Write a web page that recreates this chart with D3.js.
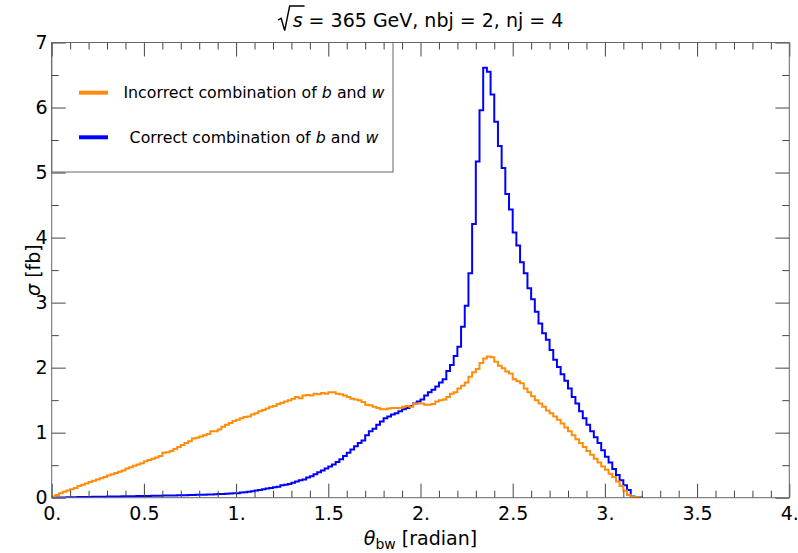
<!DOCTYPE html>
<html lang="en">
<head>
  <meta charset="UTF-8">
  <title>theta_bw 365 GeV</title>
  <style>
body { margin: 0; background: #fff; }
svg { display: block; font-family: "DejaVu Sans", sans-serif; }
  </style>
</head>
<body>
<div id="wrapper"></div>
<script src="https://cdnjs.cloudflare.com/ajax/libs/d3/7.8.5/d3.min.js"></script>
<script>

// DATA - histogram bins of width 0.02 starting at 0
const binWidth = 0.02

const incorrectValues = [
  0.02, 0.04, 0.07, 0.09, 0.11, 0.13, 0.15, 0.18, 0.20, 0.22,
  0.24, 0.26, 0.28, 0.30, 0.32, 0.34, 0.36, 0.38, 0.40, 0.42,
  0.45, 0.47, 0.49, 0.51, 0.53, 0.56, 0.58, 0.60, 0.62, 0.64,
  0.69, 0.70, 0.72, 0.75, 0.78, 0.81, 0.84, 0.87, 0.91, 0.92,
  0.94, 0.96, 0.98, 1.02, 1.02, 1.05, 1.09, 1.12, 1.15, 1.18,
  1.20, 1.22, 1.24, 1.25, 1.28, 1.30, 1.33, 1.35, 1.37, 1.40,
  1.41, 1.44, 1.46, 1.48, 1.50, 1.52, 1.55, 1.53, 1.57, 1.58,
  1.57, 1.60, 1.59, 1.61, 1.60, 1.62, 1.62, 1.60, 1.59, 1.57,
  1.55, 1.52, 1.51, 1.50, 1.47, 1.43, 1.42, 1.40, 1.38, 1.36,
  1.36, 1.37, 1.38, 1.38, 1.38, 1.40, 1.41, 1.40, 1.44, 1.45,
  1.45, 1.43, 1.43, 1.44, 1.48, 1.50, 1.51, 1.55, 1.60, 1.62,
  1.68, 1.72, 1.77, 1.86, 1.93, 1.98, 2.07, 2.14, 2.17, 2.16,
  2.09, 2.03, 1.99, 1.94, 1.91, 1.82, 1.79, 1.76, 1.68, 1.62,
  1.56, 1.50, 1.45, 1.40, 1.34, 1.30, 1.25, 1.20, 1.14, 1.08,
  1.02, 0.96, 0.90, 0.84, 0.78, 0.72, 0.66, 0.60, 0.54, 0.48,
  0.43, 0.37, 0.32, 0.25, 0.18, 0.11, 0.04, 0.01, 0.01, 0.005
]

const correctValues = [
  0.002, 0.003, 0.004, 0.005, 0.006, 0.007, 0.008, 0.009, 0.010, 0.011,
  0.012, 0.013, 0.014, 0.015, 0.016, 0.017, 0.018, 0.019, 0.020, 0.021,
  0.022, 0.023, 0.024, 0.025, 0.026, 0.027, 0.028, 0.029, 0.030, 0.031,
  0.032, 0.033, 0.034, 0.035, 0.037, 0.038, 0.039, 0.040, 0.042, 0.044,
  0.045, 0.047, 0.049, 0.051, 0.053, 0.055, 0.058, 0.061, 0.064, 0.067,
  0.07, 0.08, 0.085, 0.09, 0.10, 0.11, 0.12, 0.13, 0.14, 0.15,
  0.16, 0.17, 0.19, 0.20, 0.21, 0.23, 0.25, 0.27, 0.28, 0.31,
  0.33, 0.36, 0.39, 0.42, 0.45, 0.48, 0.51, 0.55, 0.59, 0.64,
  0.69, 0.74, 0.79, 0.84, 0.88, 0.96, 1.02, 1.06, 1.12, 1.17,
  1.22, 1.25, 1.28, 1.30, 1.33, 1.36, 1.38, 1.41, 1.45, 1.48,
  1.51, 1.57, 1.62, 1.66, 1.71, 1.77, 1.82, 1.95, 2.04, 2.18,
  2.32, 2.63, 2.95, 3.45, 4.21, 5.17, 5.96, 6.61, 6.55, 6.20,
  5.78, 5.41, 5.07, 4.67, 4.43, 4.08, 3.88, 3.62, 3.45, 3.22,
  3.05, 2.86, 2.68, 2.53, 2.43, 2.27, 2.12, 2.01, 1.90, 1.80,
  1.68, 1.55, 1.45, 1.33, 1.22, 1.12, 1.02, 0.93, 0.84, 0.73,
  0.63, 0.54, 0.44, 0.35, 0.27, 0.19, 0.12, 0.02, 0.01, 0.005
]

const xMajorTicks = [0, 0.5, 1, 1.5, 2, 2.5, 3, 3.5, 4]
const xTickLabels = ["0.", "0.5", "1.", "1.5", "2.", "2.5", "3.", "3.5", "4."]
const xMinorTicks = [0.1, 0.2, 0.3, 0.4, 0.6, 0.7, 0.8, 0.9, 1.1, 1.2, 1.3, 1.4,
  1.6, 1.7, 1.8, 1.9, 2.1, 2.2, 2.3, 2.4, 2.6, 2.7, 2.8, 2.9,
  3.1, 3.2, 3.3, 3.4, 3.6, 3.7, 3.8, 3.9]
const yMajorTicks = [0, 1, 2, 3, 4, 5, 6, 7]
const yTickLabels = ["0", "1", "2", "3", "4", "5", "6", "7"]
const yMinorTicks = [0.5, 1.5, 2.5, 3.5, 4.5, 5.5, 6.5]

const seriesNames = ["Incorrect", "Correct"]
const titleRest = " = 365 GeV, nbj = 2, nj = 4"

function drawChart() {

  // 1. dimensions
  let dimensions = {
    width: 798,
    height: 553,
    margin: { top: 42.5, right: 8.7, bottom: 55.3, left: 51.7 },
  }
  dimensions.boundedWidth = dimensions.width - dimensions.margin.left - dimensions.margin.right
  dimensions.boundedHeight = dimensions.height - dimensions.margin.top - dimensions.margin.bottom

  // 2. canvas
  const wrapper = d3.select("#wrapper")
    .append("svg")
    .attr("width", dimensions.width)
    .attr("height", dimensions.height)

  const bounds = wrapper.append("g")
    .attr("transform", `translate(${dimensions.margin.left},${dimensions.margin.top})`)

  // 3. scales
  const xScale = d3.scaleLinear()
    .domain([0, 4])
    .range([0, dimensions.boundedWidth])

  const yScale = d3.scaleLinear()
    .domain([0, 7])
    .range([dimensions.boundedHeight, 0])

  // legend box sits under the ticks
  const legend = bounds.append("g")
  legend.append("rect")
    .attr("x", 0)
    .attr("y", 0)
    .attr("width", 341.3)
    .attr("height", 129.5)
    .attr("fill", "#fff")
    .attr("stroke", "#666")
    .attr("stroke-width", 1)

  // 4. histograms as step lines
  bounds.append("clipPath").attr("id", "plotClip")
    .append("rect")
    .attr("width", dimensions.boundedWidth)
    .attr("height", dimensions.boundedHeight)

  const toSteps = values => {
    const pts = [{ x: 0, y: 0 }]
    values.forEach((v, i) => pts.push({ x: i * binWidth, y: v }))
    pts.push({ x: values.length * binWidth, y: 0 })
    return pts
  }

  const lineGenerator = d3.line()
    .x(d => xScale(d.x))
    .y(d => yScale(d.y))
    .curve(d3.curveStepAfter)

  const plot = bounds.append("g").attr("clip-path", "url(#plotClip)")

  plot.append("path")
    .attr("d", lineGenerator(toSteps(correctValues)))
    .attr("fill", "none")
    .attr("stroke", "#0000ff")
    .attr("stroke-width", 2)

  plot.append("path")
    .attr("d", lineGenerator(toSteps(incorrectValues)))
    .attr("fill", "none")
    .attr("stroke", "#ff8c0a")
    .attr("stroke-width", 2)

  // 5. axes, ticks pointing inwards on all four sides
  const styleAxis = g => {
    g.select(".domain").remove()
    g.selectAll(".tick line").attr("stroke", "#444")
    g.selectAll("text")
      .attr("fill", "#000")
      .style("font-family", "'DejaVu Sans', sans-serif")
      .style("font-size", "19px")
  }

  const bottomG = bounds.append("g").attr("transform", `translate(0,${dimensions.boundedHeight})`)
  bottomG.append("g").call(d3.axisBottom(xScale).tickValues(xMinorTicks).tickFormat("")
    .tickSizeInner(-7).tickSizeOuter(0)).call(styleAxis)
  bottomG.append("g").call(d3.axisBottom(xScale).tickValues(xMajorTicks)
    .tickFormat((d, i) => xTickLabels[i]).tickSizeInner(-14).tickSizeOuter(0).tickPadding(9))
    .call(styleAxis)

  const topG = bounds.append("g")
  topG.append("g").call(d3.axisTop(xScale).tickValues(xMinorTicks).tickFormat("")
    .tickSizeInner(-7).tickSizeOuter(0)).call(styleAxis)
  topG.append("g").call(d3.axisTop(xScale).tickValues(xMajorTicks).tickFormat("")
    .tickSizeInner(-14).tickSizeOuter(0)).call(styleAxis)

  const leftG = bounds.append("g")
  leftG.append("g").call(d3.axisLeft(yScale).tickValues(yMinorTicks).tickFormat("")
    .tickSizeInner(-7).tickSizeOuter(0)).call(styleAxis)
  leftG.append("g").call(d3.axisLeft(yScale).tickValues(yMajorTicks)
    .tickFormat((d, i) => yTickLabels[i]).tickSizeInner(-14).tickSizeOuter(0).tickPadding(4))
    .call(styleAxis)

  const rightG = bounds.append("g").attr("transform", `translate(${dimensions.boundedWidth},0)`)
  rightG.append("g").call(d3.axisRight(yScale).tickValues(yMinorTicks).tickFormat("")
    .tickSizeInner(-7).tickSizeOuter(0)).call(styleAxis)
  rightG.append("g").call(d3.axisRight(yScale).tickValues(yMajorTicks).tickFormat("")
    .tickSizeInner(-14).tickSizeOuter(0)).call(styleAxis)

  // frame
  bounds.append("rect")
    .attr("width", dimensions.boundedWidth)
    .attr("height", dimensions.boundedHeight)
    .attr("fill", "none")
    .attr("stroke", "#666")
    .attr("stroke-width", 1)

  // 6. legend entries
  const legendColors = ["#ff8c0a", "#0000ff"]
  seriesNames.forEach((name, i) => {
    const y = 50.2 + i * 44.6
    legend.append("line")
      .attr("x1", 27.3).attr("x2", 56.3)
      .attr("y1", y).attr("y2", y)
      .attr("stroke", legendColors[i])
      .attr("stroke-width", 4)
    const t = legend.append("text")
      .attr("x", 202.3)
      .attr("y", y + 5.6)
      .attr("text-anchor", "middle")
      .style("font-size", "15.8px")
    t.append("tspan").text(name + " combination of ")
    t.append("tspan").style("font-style", "italic").text("b")
    t.append("tspan").text(" and ")
    t.append("tspan").style("font-style", "italic").text("w")
  })

  // 7. axis titles
  const xLabel = wrapper.append("text")
    .attr("x", dimensions.margin.left + dimensions.boundedWidth / 2)
    .attr("y", 545)
    .attr("text-anchor", "middle")
    .style("font-size", "19px")
  xLabel.append("tspan").style("font-style", "italic").text("θ")
  xLabel.append("tspan").attr("dy", 4).style("font-size", "14px").text("bw")
  xLabel.append("tspan").attr("dy", -4).text(" [radian]")

  const yLabel = wrapper.append("text")
    .attr("transform", `translate(40,${dimensions.margin.top + dimensions.boundedHeight / 2}) rotate(-90)`)
    .attr("text-anchor", "middle")
    .style("font-size", "19px")
  yLabel.append("tspan").style("font-style", "italic").text("σ")
  yLabel.append("tspan").text(" [fb]")

  // 8. title with square root of s
  const title = wrapper.append("text")
    .attr("y", 27)
    .style("font-size", "19px")
  const sSpan = title.append("tspan").style("font-style", "italic").text("s")
  title.append("tspan").text(titleRest)
  const textLen = title.node().getComputedTextLength()
  const sLen = sSpan.node().getComputedTextLength()
  const radW = 15
  const x0 = dimensions.margin.left + dimensions.boundedWidth / 2 - (radW + textLen) / 2 + radW
  title.attr("x", x0)
  wrapper.append("path")
    .attr("d", `M${x0 - 14.7},20 L${x0 - 11.5},18.3 L${x0 - 8},30.5 L${x0 - 3},6 L${x0 + sLen + 2},6`)
    .attr("fill", "none")
    .attr("stroke", "#000")
    .attr("stroke-width", 1.4)
}
drawChart()

</script>
</body>
</html>
